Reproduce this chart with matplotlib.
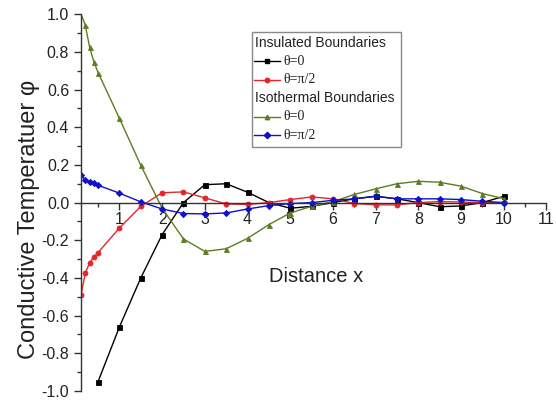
import matplotlib
matplotlib.use("Agg")
import matplotlib.pyplot as plt
from matplotlib.lines import Line2D
from matplotlib.patches import Rectangle
from matplotlib.ticker import MultipleLocator, FormatStrFormatter

plt.rcParams["font.family"] = ["Liberation Sans", "DejaVu Sans"]
plt.rcParams["axes.unicode_minus"] = False

# x positions (first five are the closely spaced start points)
x_fine = [0.1, 0.2, 0.3, 0.4, 0.5]
x_half = [1.0, 1.5, 2.0, 2.5, 3.0, 3.5, 4.0, 4.5, 5.0, 5.5, 6.0, 6.5,
          7.0, 7.5, 8.0, 8.5, 9.0, 9.5, 10.0]

# insulated boundaries
ins_t0_x = [0.5] + x_half
ins_t0_y = [-0.95, -0.66, -0.40, -0.17, 0.0, 0.095, 0.10, 0.055, 0.0, -0.03,
            -0.02, 0.0, 0.02, 0.033, 0.02, 0.0, -0.022, -0.018, 0.0, 0.033]
ins_pi2_x = x_fine + x_half
ins_pi2_y = [-0.49, -0.375, -0.32, -0.29, -0.265,
             -0.135, -0.02, 0.052, 0.057, 0.025, -0.007, -0.01, 0.0, 0.016,
             0.03, 0.02, -0.005, -0.012, -0.012, 0.0, 0.005, 0.003, 0.0, 0.0]

# isothermal boundaries
iso_t0_x = x_fine + x_half
iso_t0_y = [1.0, 0.943, 0.826, 0.748, 0.69,
            0.447, 0.198, -0.03, -0.193, -0.259, -0.245, -0.19, -0.117, -0.055,
            -0.02, 0.005, 0.043, 0.073, 0.10, 0.113, 0.108, 0.087, 0.048, 0.021]
iso_pi2_x = x_fine + x_half
iso_pi2_y = [0.145, 0.12, 0.11, 0.105, 0.092,
             0.05, 0.004, -0.034, -0.058, -0.06, -0.055, -0.034, -0.016, -0.005,
             0.0, 0.012, 0.02, 0.034, 0.02, 0.02, 0.02, 0.016, 0.007, 0.0]

SERIES = [
    ("θ=0", ins_t0_x, ins_t0_y, "#000000", "s"),
    ("θ=π/2", ins_pi2_x, ins_pi2_y, "#e3262b", "o"),
    ("θ=0", iso_t0_x, iso_t0_y, "#5d7d22", "^"),
    ("θ=π/2", iso_pi2_x, iso_pi2_y, "#1010c8", "D"),
]

fig = plt.figure(figsize=(5.56, 4.03), dpi=100)
ax = fig.add_axes([0.1457, 0.0298, 0.837, 0.935])

for label, xs, ys, color, marker in SERIES:
    # the point sitting on the top edge carries no visible marker in the original
    shown = [i for i, v in enumerate(ys) if v < 0.99]
    ax.plot(xs, ys, color=color, linewidth=1.0, marker=marker,
            markersize=3.6 if marker != "D" else 3.2, markeredgewidth=0.6,
            markevery=shown, label=label)

ax.set_xlim(0.1, 11)
ax.set_ylim(-1.0, 1.0)
ax.spines["top"].set_visible(False)
ax.spines["right"].set_visible(False)
ax.spines["bottom"].set_position(("data", 0.0))
for side in ("left", "bottom"):
    ax.spines[side].set_linewidth(1.0)
    ax.spines[side].set_color("#333333")

ax.xaxis.set_major_locator(MultipleLocator(1))
ax.xaxis.set_minor_locator(MultipleLocator(0.5))
ax.yaxis.set_major_locator(MultipleLocator(0.2))
ax.yaxis.set_minor_locator(MultipleLocator(0.1))
ax.yaxis.set_major_formatter(FormatStrFormatter("%.1f"))
ax.tick_params(which="major", direction="out", length=5, width=1.0,
               labelsize=11.5, colors="#333333", labelcolor="#222222")
ax.tick_params(which="minor", direction="out", length=3, width=1.0,
               colors="#333333")
ax.tick_params(axis="x", pad=2)

ax.set_ylabel("Conductive Temperatuer φ", fontsize=17, color="#222222")
ax.yaxis.set_label_coords(-0.088, 0.455)
ax.text(5.6, -0.39, "Distance x", fontsize=14.5, ha="center", va="center",
        color="#222222")

# legend drawn as a box with group headers
box = Rectangle((0.368, 0.647), 0.32, 0.305, transform=ax.transAxes,
                facecolor="white", edgecolor="#888888", linewidth=1.0, zorder=5)
ax.add_patch(box)
rows = [
    ("header", "Insulated Boundaries"),
    ("entry", 0), ("entry", 1),
    ("header", "Isothermal Boundaries"),
    ("entry", 2), ("entry", 3),
]
top = 0.924
step = 0.049
for i, (kind, val) in enumerate(rows):
    yy = top - i * step
    if kind == "header":
        ax.text(0.374, yy, val, transform=ax.transAxes, fontsize=10,
                va="center", ha="left", color="#222222", zorder=6)
    else:
        label, _, _, color, marker = SERIES[val]
        ax.add_line(Line2D([0.371, 0.427], [yy, yy], transform=ax.transAxes,
                           color=color, linewidth=1.0, zorder=6))
        ax.add_line(Line2D([0.399], [yy], transform=ax.transAxes, color=color,
                           marker=marker, markersize=3.2, zorder=7))
        ax.text(0.434, yy, label, transform=ax.transAxes, fontsize=10,
                va="center", ha="left", color="#222222", zorder=6,
                family=["Liberation Serif", "DejaVu Serif"])

fig.savefig("out.png", dpi=100)
